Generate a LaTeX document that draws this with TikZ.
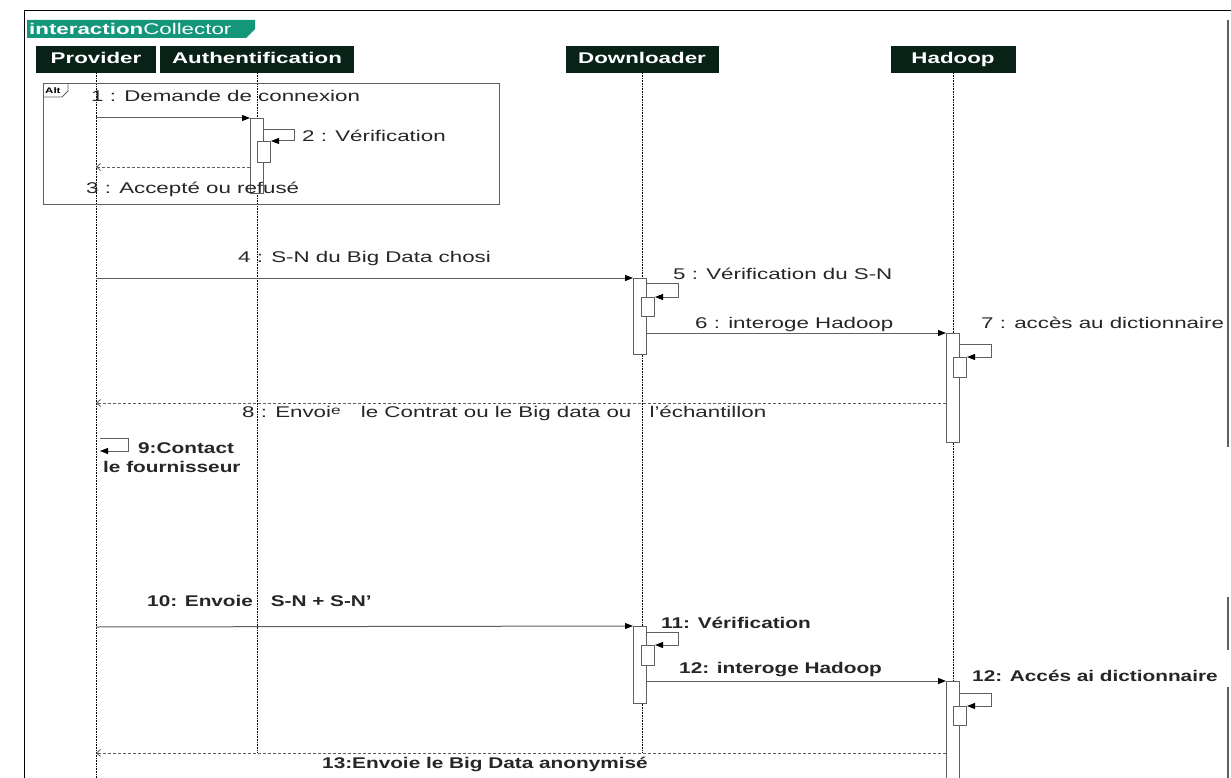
\documentclass[tikz,border=0pt]{standalone}
\usepackage{fontspec}
\setmainfont[FakeStretch=1.44]{Liberation Sans}
\newfontfamily\labfont[FakeStretch=1.34]{Liberation Sans}
\usetikzlibrary{arrows.meta}

\definecolor{tabgreen}{RGB}{20,150,122}
\definecolor{headgreen}{RGB}{8,34,24}
\definecolor{linegray}{RGB}{95,95,95}

\tikzset{
    head/.style={fill=headgreen, text=white, font=\fontsize{15.5}{18}\selectfont\bfseries,
        minimum height=27pt, inner sep=0pt, text height=11.5pt, text depth=3pt},
    lifeline/.style={densely dotted, line width=0.6pt},
    activ/.style={draw=linegray, fill=white, line width=1pt, minimum width=13pt, inner sep=0pt, anchor=north west},
    call/.style={linegray, line width=1pt, -{Triangle[length=8pt,width=6pt,color=black]}},
    reply/.style={linegray, line width=0.8pt, dash pattern=on 3pt off 2pt, -{Straight Barb[length=4pt,width=7pt]}},
    msg/.style={anchor=base west, inner sep=0pt, text=black!85, font=\fontsize{15.5}{18}\selectfont},
    msgb/.style={msg, font=\labfont\fontsize{15.5}{18}\selectfont\bfseries}
}

\begin{document}
\begin{tikzpicture}[x=1pt, y=-1pt]
        \useasboundingbox (0,0) rectangle (1231,778);

        % frame
        \draw[line width=1pt] (24,778) -- (24,11) -- (1231,11);
        \draw[linegray, line width=1.2pt] (1228,20) -- (1228,447);
        \draw[linegray, line width=1.2pt] (1228,597) -- (1228,650);
        \draw[linegray, line width=1.2pt] (1228,687) -- (1228,778);
        \fill[tabgreen] (27,20) -- (255,20) -- (255,29) -- (246,38) -- (27,38) -- cycle;
        \node[anchor=base west, inner sep=0pt, text=white, font=\fontsize{15.5}{17}\selectfont] (frametitle) at (29,35) {\textbf{interaction}Collector};

        % lifelines
        \node[head, minimum width=120pt] (provider) at (96,59.5) {Provider};
        \node[head, minimum width=194pt] (auth) at (257,59.5) {Authentification};
        \node[head, minimum width=153pt] (downloader) at (642,59.5) {Downloader};
        \node[head, minimum width=125pt] (hadoop) at (953,59.5) {Hadoop};

        \draw[lifeline] (provider.south) -- (provider |- 0,778);
        \draw[lifeline] (auth.south) -- (auth |- 0,752);
        \draw[lifeline] (downloader.south) -- (downloader |- 0,752);
        \draw[lifeline] (hadoop.south) -- (hadoop |- 0,778);

        % alt fragment
        \draw[linegray, line width=1pt] (43,84) rectangle (499,205);
        \draw[linegray, line width=0.8pt] (43,97) -- (62,97) -- (68,91) -- (68,84);
        \node[anchor=base west, inner sep=0pt, font=\fontsize{8}{9}\selectfont\bfseries] (alttag) at (45,94) {Alt};

        % activations
        \node[activ, minimum height=75pt] (authA) at (250,118) {};
        \node[activ, minimum height=21pt] (authB) at (257,141) {};
        \node[activ, minimum height=76pt] (downA) at (633,278) {};
        \node[activ, minimum height=19pt] (downB) at (641,297) {};
        \node[activ, minimum height=109pt] (hadA) at (946,333) {};
        \node[activ, minimum height=20pt] (hadB) at (953,357) {};
        \node[activ, minimum height=77pt] (downC) at (633,626) {};
        \node[activ, minimum height=20pt] (downD) at (641,645) {};
        \node[activ, minimum height=110pt] (hadC) at (946,681) {};
        \node[activ, minimum height=19pt] (hadD) at (953,706) {};

        \coordinate (p1) at (96,118);
        \coordinate (p3) at (96,167);
        \coordinate (p4) at (96,278);
        \coordinate (p8) at (96,403);
        \coordinate (p9) at (100,438);
        \coordinate (p10) at (96,627);
        \coordinate (p13) at (96,753);

        % messages
        \draw[call] (p1) -- (authA.north west);
        \node[msg] (m1) at (91,102) {1 : Demande de connexion};
        \draw[call] ([yshift=-12pt]authA.north east) -- ++(30,0) |- (authB.north east);
        \node[msg] (m2) at (302,142) {2 : Vérification};
        \draw[reply] (authA.west |- p3) -- (p3);
        \node[msg] (m3) at (86,194) {3 : Accepté ou refusé};

        \draw[call] (p4) -- (downA.north west);
        \node[msg] (m4) at (238,262) {4 : S-N du Big Data chosi};
        \draw[call] ([yshift=-5pt]downA.north east) -- ++(31,0) |- (downB.north east);
        \node[msg] (m5) at (673,279) {5 : Vérification du S-N};
        \draw[call] (downA.east |- hadA.north west) -- (hadA.north west);
        \node[msg] (m6) at (695,328) {6 : interoge Hadoop};
        \draw[call] ([yshift=-11pt]hadA.north east) -- ++(31,0) |- (hadB.north east);
        \node[msg] (m7) at (981,328) {7 : accès au dictionnaire};
        \draw[reply] (hadA.west |- p8) -- (p8);
        \node[msg] (m8) at (242,417) {8 : Envoi\raisebox{3pt}{\fontsize{12}{14}\selectfont e}\hspace{14pt} le Contrat ou le Big data ou\hspace{12pt} l'échantillon};

        \draw[call, line width=0.8pt] (p9) -- ++(28,0) -- ++(0,13) -- ++(-28,0);
        \node[msgb] (m9) at (138,453) {9:Contact};
        \node[msgb] (m9b) at (103,472) {le fournisseur};

        \draw[call] (p10) -- (downC.north west);
        \node[msgb] (m10) at (147,606) {10: Envoie\hspace{12pt} S-N + S-N’};
        \draw[call] ([yshift=-6pt]downC.north east) -- ++(31,0) |- (downD.north east);
        \node[msgb] (m11) at (661,628) {11: Vérification};
        \draw[call] (downC.east |- hadC.north west) -- (hadC.north west);
        \node[msgb] (m12) at (679,673) {12: interoge Hadoop};
        \draw[call] ([yshift=-12pt]hadC.north east) -- ++(31,0) |- (hadD.north east);
        \node[msgb] (m12b) at (972,681) {12: Accés ai dictionnaire};
        \draw[reply] (hadC.west |- p13) -- (p13);
        \node[msgb] (m13) at (322,768) {13:Envoie le Big Data anonymisé};

    \end{tikzpicture}
\end{document}
